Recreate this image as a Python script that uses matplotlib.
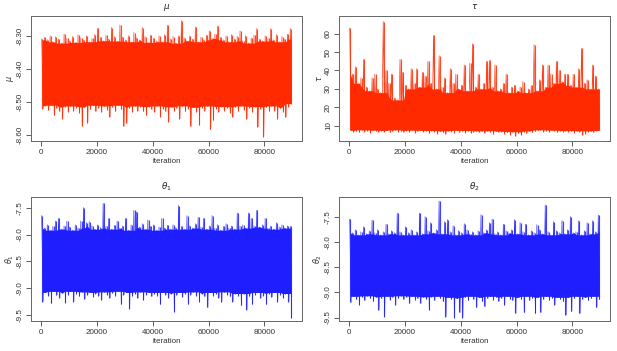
import numpy as np
import matplotlib
matplotlib.use("Agg")
import matplotlib.pyplot as plt

plt.rcParams["font.family"] = ["Liberation Sans", "DejaVu Sans"]
plt.rcParams["axes.unicode_minus"] = False

# trace envelopes: max / min value in each block of 1000 iterations
bin_width = 1000

mu_hi = [
    -8.310, -8.305, -8.312, -8.300, -8.318, -8.303, -8.310, -8.322, -8.295, -8.308,
    -8.315, -8.302, -8.320, -8.297, -8.306, -8.312, -8.300, -8.318, -8.308, -8.296,
    -8.277, -8.305, -8.315, -8.298, -8.310, -8.275, -8.302, -8.316, -8.267, -8.304,
    -8.312, -8.300, -8.318, -8.290, -8.306, -8.313, -8.275, -8.302, -8.320, -8.298,
    -8.308, -8.315, -8.300, -8.318, -8.296, -8.268, -8.310, -8.302, -8.322, -8.300,
    -8.254, -8.306, -8.315, -8.300, -8.310, -8.273, -8.318, -8.304, -8.312, -8.298,
    -8.285, -8.308, -8.295, -8.270, -8.305, -8.312, -8.300, -8.318, -8.296, -8.310,
    -8.302, -8.285, -8.315, -8.300, -8.322, -8.306, -8.298, -8.278, -8.310, -8.316,
    -8.300, -8.308, -8.278, -8.312, -8.296, -8.318, -8.302, -8.310, -8.295, -8.278,
]
mu_lo = [
    -8.520, -8.512, -8.525, -8.510, -8.540, -8.518, -8.528, -8.550, -8.515, -8.530,
    -8.512, -8.526, -8.518, -8.532, -8.573, -8.515, -8.563, -8.522, -8.510, -8.528,
    -8.518, -8.530, -8.512, -8.524, -8.545, -8.516, -8.528, -8.510, -8.522, -8.573,
    -8.565, -8.518, -8.530, -8.512, -8.526, -8.515, -8.528, -8.540, -8.514, -8.522,
    -8.530, -8.512, -8.545, -8.520, -8.528, -8.560, -8.515, -8.526, -8.518, -8.550,
    -8.512, -8.528, -8.520, -8.573, -8.516, -8.530, -8.570, -8.518, -8.526, -8.512,
    -8.583, -8.555, -8.520, -8.530, -8.514, -8.526, -8.518, -8.532, -8.545, -8.515,
    -8.528, -8.512, -8.524, -8.550, -8.518, -8.530, -8.514, -8.575, -8.522, -8.605,
    -8.516, -8.528, -8.512, -8.526, -8.550, -8.518, -8.530, -8.545, -8.514, -8.505,
]

tau_hi = [
    63.0, 38.0, 42.0, 33.0, 36.0, 46.0, 31.0, 29.0, 36.0, 38.0,
    30.0, 28.0, 66.5, 40.0, 33.0, 38.0, 25.0, 24.0, 46.0, 39.0,
    32.0, 30.0, 41.0, 33.0, 41.0, 31.0, 39.0, 37.0, 45.0, 33.0,
    59.0, 30.0, 48.0, 31.0, 36.0, 28.0, 41.0, 33.0, 38.0, 30.0,
    32.0, 43.0, 29.0, 44.0, 54.5, 31.0, 38.0, 30.0, 33.0, 45.0,
    45.5, 31.0, 43.0, 29.0, 30.0, 33.0, 38.0, 28.0, 31.0, 32.0,
    29.0, 31.0, 34.0, 28.0, 30.0, 32.0, 54.0, 29.0, 35.0, 43.0,
    31.0, 43.0, 38.0, 33.0, 45.0, 40.0, 34.0, 38.0, 38.0, 32.0,
    38.0, 31.0, 41.0, 52.0, 33.0, 35.0, 30.0, 43.0, 37.0, 30.0,
]
tau_lo = [
    7.5, 6.8, 7.2, 6.5, 7.8, 6.9, 7.4, 6.2, 7.6, 7.0,
    6.6, 7.3, 6.8, 7.5, 6.4, 7.1, 7.8, 6.9, 7.2, 6.5,
    7.4, 6.8, 7.6, 6.3, 7.0, 7.5, 6.7, 7.2, 6.1, 7.4,
    6.8, 5.8, 7.1, 6.4, 5.6, 7.3, 6.9, 6.2, 7.5, 6.6,
    7.0, 6.3, 7.4, 5.9, 6.8, 7.2, 6.4, 7.0, 6.1, 7.3,
    6.7, 5.4, 7.1, 6.5, 6.9, 5.7, 6.4, 5.2, 6.8, 4.5,
    5.9, 5.1, 6.6, 6.0, 7.2, 6.4, 7.0, 7.5, 7.8, 6.9,
    7.4, 6.8, 7.6, 7.1, 6.5, 7.3, 6.9, 7.4, 6.6, 7.0,
    6.2, 7.3, 6.8, 5.0, 5.8, 6.6, 7.2, 6.5, 7.1, 7.5,
]

theta1_hi = [
    -7.65, -7.88, -7.82, -7.92, -7.85, -7.75, -7.70, -7.90, -7.84, -7.75,
    -7.86, -7.92, -7.82, -7.88, -7.75, -7.50, -7.78, -7.76, -7.84, -7.90,
    -7.82, -7.87, -7.42, -7.85, -7.70, -7.90, -7.83, -7.75, -7.88, -7.84,
    -7.70, -7.92, -7.82, -7.55, -7.58, -7.86, -7.80, -7.90, -7.73, -7.85,
    -7.82, -7.92, -7.86, -7.70, -7.88, -7.83, -7.90, -7.82, -7.87, -7.46,
    -7.85, -7.90, -7.65, -7.84, -7.88, -7.80, -7.68, -7.86, -7.70, -7.90,
    -7.84, -7.65, -7.88, -7.82, -7.92, -7.85, -7.80, -7.88, -7.84, -7.90,
    -7.60, -7.85, -7.82, -7.88, -7.60, -7.70, -7.84, -7.55, -7.86, -7.82,
    -7.70, -7.88, -7.84, -7.90, -7.78, -7.86, -7.82, -7.88, -7.84, -7.85,
]
theta1_lo = [
    -9.25, -9.08, -9.14, -9.28, -9.06, -9.12, -9.18, -9.09, -9.27, -9.12,
    -9.06, -9.25, -9.10, -9.15, -9.07, -9.20, -9.12, -9.08, -9.16, -9.10,
    -9.14, -9.22, -9.07, -9.12, -9.18, -9.09, -9.14, -9.06, -9.30, -9.12,
    -9.08, -9.38, -9.14, -9.10, -9.18, -9.07, -9.22, -9.12, -9.08, -9.15,
    -9.10, -9.14, -9.30, -9.08, -9.12, -9.18, -9.10, -9.44, -9.12, -9.08,
    -9.16, -9.10, -9.30, -9.12, -9.07, -9.14, -9.25, -9.10, -9.15, -9.36,
    -9.08, -9.14, -9.10, -9.18, -9.25, -9.07, -9.12, -9.15, -9.25, -9.10,
    -9.14, -9.32, -9.10, -9.40, -9.15, -9.30, -9.12, -9.08, -9.18, -9.14,
    -9.30, -9.10, -9.16, -9.08, -9.25, -9.12, -9.18, -9.10, -9.25, -9.55,
]

theta2_hi = [
    -7.55, -7.82, -7.76, -7.86, -7.80, -7.70, -7.84, -7.78, -7.57, -7.82,
    -7.76, -7.86, -7.80, -7.65, -7.84, -7.78, -7.82, -7.43, -7.80, -7.86,
    -7.70, -7.82, -7.76, -7.86, -7.80, -7.43, -7.84, -7.50, -7.78, -7.62,
    -7.82, -7.76, -7.19, -7.84, -7.60, -7.56, -7.80, -7.68, -7.86, -7.78,
    -7.82, -7.64, -7.76, -7.84, -7.80, -7.86, -7.78, -7.46, -7.82, -7.76,
    -7.62, -7.55, -7.84, -7.80, -7.86, -7.65, -7.78, -7.82, -7.76, -7.56,
    -7.84, -7.62, -7.80, -7.65, -7.86, -7.78, -7.82, -7.66, -7.76, -7.84,
    -7.27, -7.80, -7.86, -7.60, -7.78, -7.82, -7.58, -7.84, -7.76, -7.50,
    -7.82, -7.80, -7.58, -7.86, -7.78, -7.62, -7.84, -7.58, -7.80, -7.47,
]
theta2_lo = [
    -9.20, -9.08, -9.14, -9.25, -9.10, -9.16, -9.07, -9.12, -9.18, -9.09,
    -9.35, -9.12, -9.48, -9.08, -9.15, -9.10, -9.25, -9.12, -9.07, -9.14,
    -9.10, -9.22, -9.08, -9.15, -9.12, -9.22, -9.09, -9.14, -9.35, -9.10,
    -9.16, -9.08, -9.12, -9.18, -9.48, -9.10, -9.14, -9.50, -9.12, -9.40,
    -9.50, -9.10, -9.16, -9.08, -9.14, -9.30, -9.10, -9.18, -9.28, -9.12,
    -9.08, -9.15, -9.10, -9.18, -9.12, -9.25, -9.08, -9.14, -9.16, -9.42,
    -9.10, -9.14, -9.40, -9.08, -9.16, -9.12, -9.42, -9.10, -9.40, -9.14,
    -9.08, -9.16, -9.12, -9.25, -9.10, -9.14, -9.18, -9.45, -9.10, -9.38,
    -9.12, -9.08, -9.42, -9.14, -9.10, -9.16, -9.12, -9.08, -9.30, -9.14,
]

x_ticks = [0, 20000, 40000, 60000, 80000]

panels = [
    # title, ylabel, hi, lo, colour, yticks, fmt, ylim, axes rect
    (r"$\mu$", r"$\mu$", mu_hi, mu_lo, "#ff2a00",
     [-8.6, -8.5, -8.4, -8.3], "%.2f", (-8.618, -8.2415), [0.0502, 0.5983, 0.440, 0.3547]),
    (r"$\tau$", r"$\tau$", tau_hi, tau_lo, "#ff2a00",
     [10, 20, 30, 40, 50, 60], "%d", (1.75, 69.3), [0.5494, 0.5983, 0.440, 0.3547]),
    (r"$\theta_1$", r"$\theta_1$", theta1_hi, theta1_lo, "#1e1eff",
     [-9.5, -9.0, -8.5, -8.0, -7.5], "%.1f", (-9.612, -7.30), [0.0502, 0.0855, 0.440, 0.3533]),
    (r"$\theta_2$", r"$\theta_2$", theta2_hi, theta2_lo, "#1e1eff",
     [-9.5, -9.0, -8.5, -8.0, -7.5], "%.1f", (-9.569, -7.109), [0.5494, 0.0855, 0.440, 0.3533]),
]

fig = plt.figure(figsize=(6.17, 3.51), dpi=100)
fs = 5.8

for title, ylab, hi, lo, col, yticks, fmt, ylim, rect in panels:
    ax = fig.add_axes(rect)
    hi = np.asarray(hi)
    lo = np.asarray(lo)
    xc = np.arange(len(hi)) * bin_width + 0.5 * bin_width

    # dense body of the trace: the band that all nearby blocks reach
    k = 2
    hi_pad = np.pad(hi, k, mode="edge")
    lo_pad = np.pad(lo, k, mode="edge")
    n = len(hi)
    body_hi = np.minimum.reduce([hi_pad[j:j + n] for j in range(2 * k + 1)])
    body_lo = np.maximum.reduce([lo_pad[j:j + n] for j in range(2 * k + 1)])
    ax.fill_between(xc, body_lo, body_hi, color=col, linewidth=0)

    # the spikes of each block
    ax.vlines(xc, lo, hi, color=col, linewidth=0.8, alpha=0.85)
    xz = np.column_stack([xc - 0.25 * bin_width, xc + 0.25 * bin_width]).ravel()
    yz = np.column_stack([hi, lo]).ravel()
    ax.plot(xz, yz, color=col, linewidth=0.5, alpha=0.9)

    ax.set_xlim(-3600, 93600)
    ax.set_ylim(*ylim)
    ax.set_xticks(x_ticks)
    ax.set_xticklabels([str(t) for t in x_ticks])
    ax.set_yticks(yticks)
    ax.set_yticklabels([fmt % t for t in yticks], rotation=90, va="center")
    ax.tick_params(length=3.5, width=0.6, colors="#444444", labelsize=fs, pad=2.5)
    ax.tick_params(axis="y", pad=1.5)
    for lbl in ax.get_xticklabels() + ax.get_yticklabels():
        lbl.set_color("#333333")
    for s in ax.spines.values():
        s.set_color("#666666")
        s.set_linewidth(0.7)

    ax.set_title(title, fontsize=fs + 0.5, pad=5.5, color="#222222")
    ax.set_xlabel("iteration", fontsize=fs, labelpad=1.5, color="#333333")
    ax.set_ylabel(ylab, fontsize=fs, labelpad=1, color="#333333")

fig.savefig("out.png", dpi=100)
